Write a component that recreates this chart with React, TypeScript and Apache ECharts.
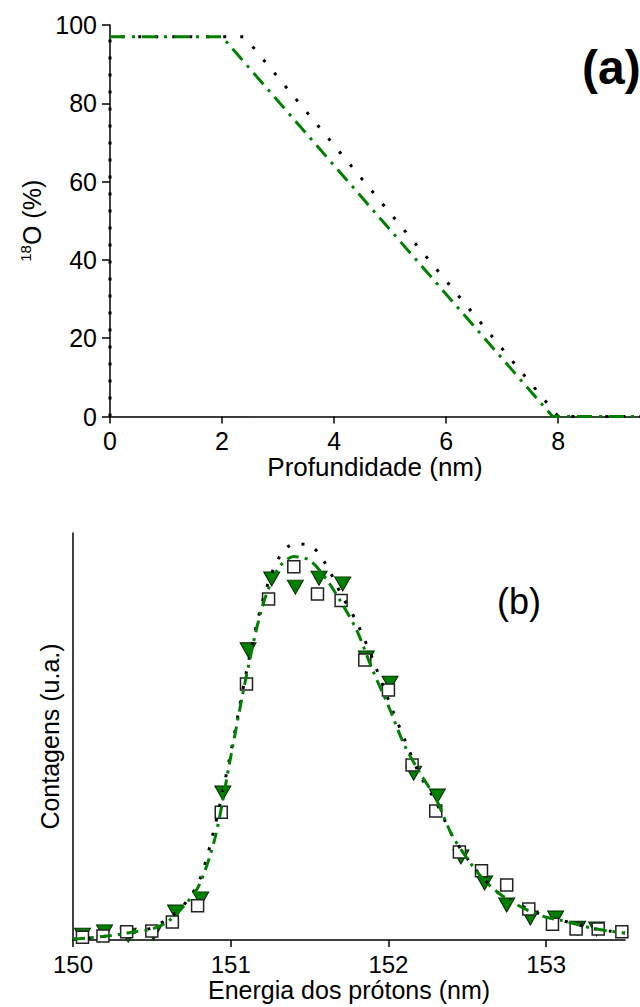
import React, { useEffect, useRef } from "react";
import * as echarts from "echarts";

// ---- Panel (a): 18O depth profiles ----
const depthTicks = [0, 2, 4, 6, 8];
const depthBlack = [0, 0, 2.4, 8.0, 9.46];
const o18Black = [0, 97, 97, 0, 0];
const depthGreen = [0, 2.0, 7.9, 9.46];
const o18Green = [97, 97, 0, 0];

// ---- Panel (b): resonance excitation curves ----
const energyTicks = [150, 151, 152, 153];
const squareE = [150.06, 150.19, 150.34, 150.5, 150.63, 150.79, 150.94, 151.1, 151.24, 151.4, 151.55, 151.7, 151.85, 152.0, 152.15, 152.3, 152.45, 152.59, 152.75, 152.89, 153.04, 153.19, 153.33, 153.48];
const squareY = [0.7, 1.0, 2.0, 2.2, 4.4, 8.4, 31.4, 62.9, 83.8, 91.7, 85.0, 83.4, 68.8, 61.4, 43.0, 31.7, 21.6, 17.0, 13.5, 7.6, 3.9, 2.7, 2.7, 2.0];
const triE = [150.06, 150.2, 150.35, 150.51, 150.65, 150.81, 150.95, 151.11, 151.26, 151.41, 151.56, 151.71, 151.86, 152.01, 152.16, 152.31, 152.46, 152.61, 152.75, 152.9, 153.06, 153.2, 153.32];
const triY = [1.2, 2.0, 1.2, 1.7, 6.9, 10.1, 36.1, 71.3, 88.7, 86.7, 88.9, 87.5, 69.3, 63.1, 41.0, 35.4, 20.4, 14.0, 8.6, 5.4, 5.4, 2.9, 2.7];
const curveE = [150.0, 150.1, 150.2, 150.3, 150.4, 150.5, 150.6, 150.7, 150.8, 150.9, 151.0, 151.1, 151.2, 151.3, 151.4, 151.5, 151.6, 151.7, 151.8, 151.9, 152.0, 152.1, 152.2, 152.3, 152.4, 152.5, 152.6, 152.7, 152.8, 152.9, 153.0, 153.1, 153.2, 153.3, 153.4, 153.5];
const curveGreen = [0.2, 0.5, 0.9, 1.4, 2.1, 2.7, 4.5, 8.2, 13.5, 25, 45, 65, 81.8, 91.2, 94.2, 93.3, 89, 83, 76, 66.3, 57.5, 48, 41, 34.8, 26, 20, 15, 11.5, 9, 7, 5.6, 4.8, 3.8, 2.8, 2.2, 1.7];
const curveBlack = [0.2, 0.5, 0.9, 1.4, 2.0, 3.0, 5.2, 8.5, 14.5, 28, 46, 66, 83, 93.5, 97.3, 97, 92.5, 85, 78, 69, 59, 49.5, 40.5, 34, 26, 20, 15.2, 11.5, 9.2, 7.4, 5.8, 4.8, 3.8, 2.8, 2.2, 1.7];

const FONT = "'Liberation Sans', Arial, sans-serif";
const GREEN = "#008000";

const zip = (a: number[], b: number[]) => a.map((v, i) => [v, b[i]]);

export default function App() {
  const ref = useRef<HTMLDivElement>(null);
  useEffect(() => {
    if (!ref.current) return;
    const chart = echarts.init(ref.current, undefined, { renderer: "svg" });
    const axisLine = { show: true, lineStyle: { color: "#000", width: 1.5 } };
    const label = (size: number, margin: number) => ({
      color: "#000",
      fontSize: size,
      fontFamily: FONT,
      margin,
    });
    chart.setOption({
      animation: false,
      backgroundColor: "#fff",
      grid: [
        { left: 110, top: 25, width: 530, height: 391.5 },
        { left: 73, top: 533, width: 552, height: 407 },
      ],
      xAxis: [
        {
          gridIndex: 0,
          type: "value",
          min: 0,
          max: 9.46,
          interval: 2,
          axisLine,
          axisTick: { show: true, length: 7, lineStyle: { color: "#000", width: 1.5 }, customValues: depthTicks },
          axisLabel: { ...label(25, 12), customValues: depthTicks },
          splitLine: { show: false },
          name: "Profundidade (nm)",
          nameLocation: "middle",
          nameGap: 37,
          nameTextStyle: { color: "#000", fontSize: 26, fontFamily: FONT },
        },
        {
          gridIndex: 1,
          type: "value",
          min: 150,
          max: 153.5,
          interval: 1,
          axisLine,
          axisTick: { show: true, length: 7, lineStyle: { color: "#000", width: 1.5 }, customValues: energyTicks },
          axisLabel: { ...label(24, 12), customValues: energyTicks },
          splitLine: { show: false },
          name: "Energia dos prótons (nm)",
          nameLocation: "middle",
          nameGap: 37,
          nameTextStyle: { color: "#000", fontSize: 25, fontFamily: FONT },
        },
      ],
      yAxis: [
        {
          gridIndex: 0,
          type: "value",
          min: 0,
          max: 100,
          interval: 20,
          axisLine,
          axisTick: { show: true, length: 8, lineStyle: { color: "#000", width: 1.5 } },
          axisLabel: label(25, 13),
          splitLine: { show: false },
          name: "{sup|18}{n|O (%)}",
          nameLocation: "middle",
          nameGap: 48,
          nameTextStyle: {
            color: "#000",
            fontFamily: FONT,
            fontSize: 25,
            rich: {
              sup: { fontSize: 15, fontFamily: FONT, color: "#000", verticalAlign: "top", lineHeight: 16 },
              n: { fontSize: 25, fontFamily: FONT, color: "#000", lineHeight: 28 },
            },
          },
        },
        {
          gridIndex: 1,
          type: "value",
          min: 0,
          max: 100,
          axisLine,
          axisTick: { show: false },
          axisLabel: { show: false },
          splitLine: { show: false },
          name: "Contagens (u.a.)",
          nameLocation: "middle",
          nameGap: 11,
          nameTextStyle: { color: "#000", fontSize: 25, fontFamily: FONT },
        },
      ],
      series: [
        {
          type: "line",
          xAxisIndex: 0,
          yAxisIndex: 0,
          data: zip(depthBlack, o18Black),
          showSymbol: false,
          lineStyle: { color: "#000", width: 3, type: [3, 14] },
          z: 2,
        },
        {
          type: "line",
          xAxisIndex: 0,
          yAxisIndex: 0,
          data: zip(depthGreen, o18Green),
          showSymbol: false,
          lineStyle: { color: GREEN, width: 3, type: [15, 7, 3, 7] },
          z: 3,
        },
        {
          type: "scatter",
          xAxisIndex: 1,
          yAxisIndex: 1,
          data: zip(triE, triY),
          symbol: "triangle",
          symbolRotate: 180,
          symbolSize: [16, 14],
          itemStyle: { color: GREEN, borderColor: "#002800", borderWidth: 1, opacity: 1 },
          z: 2,
        },
        {
          type: "scatter",
          xAxisIndex: 1,
          yAxisIndex: 1,
          data: zip(squareE, squareY),
          symbol: "rect",
          symbolSize: 12,
          itemStyle: { color: "#fff", borderColor: "#222", borderWidth: 1.5, opacity: 1 },
          z: 3,
        },
        {
          type: "line",
          xAxisIndex: 1,
          yAxisIndex: 1,
          data: zip(curveE, curveBlack),
          showSymbol: false,
          smooth: 0.3,
          lineStyle: { color: "#000", width: 3, type: [3, 12] },
          z: 4,
        },
        {
          type: "line",
          xAxisIndex: 1,
          yAxisIndex: 1,
          data: zip(curveE, curveGreen),
          showSymbol: false,
          smooth: 0.3,
          lineStyle: { color: GREEN, width: 3, type: [12, 6, 3, 6] },
          z: 5,
        },
      ],
      graphic: [
        {
          type: "text",
          x: 582,
          y: 67,
          style: {
            text: "(a)",
            fontSize: 48,
            fontWeight: "bold",
            fontFamily: FONT,
            fill: "#000",
            align: "left",
            verticalAlign: "middle",
            textAlign: "left",
            textVerticalAlign: "middle",
          },
        },
        {
          type: "text",
          x: 497,
          y: 601,
          style: {
            text: "(b)",
            fontSize: 36,
            fontFamily: FONT,
            fill: "#000",
            align: "left",
            verticalAlign: "middle",
            textAlign: "left",
            textVerticalAlign: "middle",
          },
        },
      ],
    });
    return () => chart.dispose();
  }, []);
  return (
    <div
      ref={ref}
      style={{ position: "absolute", left: 0, top: 0, width: 640, height: 1007 }}
    />
  );
}
